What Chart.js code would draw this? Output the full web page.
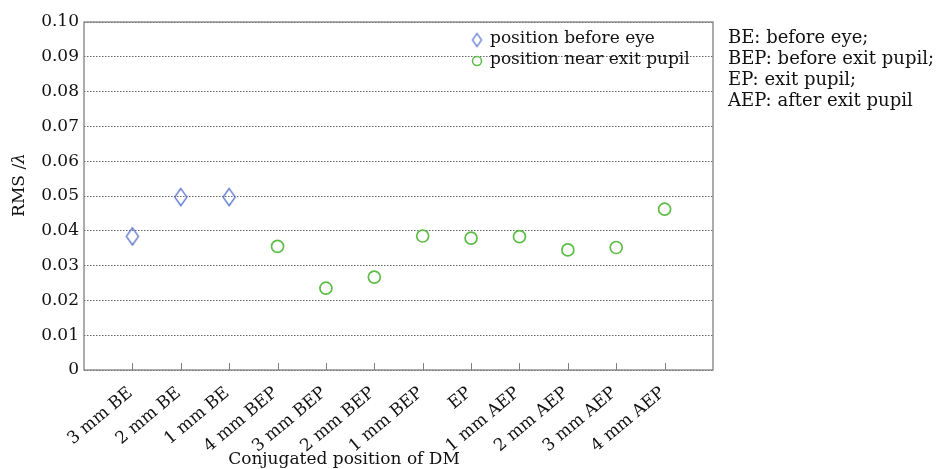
<!DOCTYPE html>
<html><head><meta charset="utf-8">
<script src="https://cdn.jsdelivr.net/npm/chart.js@4"></script>
<style>html,body{margin:0;padding:0;background:#fff;}#wrap{width:938px;height:469px;}</style>
</head><body><div id="wrap"><canvas id="c" width="938" height="469"></canvas></div>
<script>
const categories = ['3 mm BE','2 mm BE','1 mm BE','4 mm BEP','3 mm BEP','2 mm BEP','1 mm BEP','EP','1 mm AEP','2 mm AEP','3 mm AEP','4 mm AEP'];
const beforeEyeCategories = ['3 mm BE','2 mm BE','1 mm BE'];
const beforeEyeRMS = [0.0384, 0.0497, 0.0497];
const exitPupilCategories = ['4 mm BEP','3 mm BEP','2 mm BEP','1 mm BEP','EP','1 mm AEP','2 mm AEP','3 mm AEP','4 mm AEP'];
const exitPupilRMS = [0.0355, 0.0235, 0.0267, 0.0385, 0.0379, 0.0383, 0.0345, 0.0352, 0.0462];
const yTicks = [0, 0.01, 0.02, 0.03, 0.04, 0.05, 0.06, 0.07, 0.08, 0.09, 0.10];
const yTickLabels = ['0','0.01','0.02','0.03','0.04','0.05','0.06','0.07','0.08','0.09','0.10'];
const seriesLabels = ['position before eye', 'position near exit pupil'];
const notes = ['BE: before eye;', 'BEP: before exit pupil;', 'EP: exit pupil;', 'AEP: after exit pupil'];
const xTitle = 'Conjugated position of DM';
const yTitle = 'RMS /λ';

const FONT = "'DejaVu Serif', serif";
const BLUE = '#4a66c6';
const GREEN = '#5cbd46';

function makeDiamond(w, h, color, lw) {
  const c = document.createElement('canvas');
  c.width = Math.ceil(w + 4); c.height = Math.ceil(h + 4);
  const g = c.getContext('2d');
  g.strokeStyle = color; g.lineWidth = lw;
  const cx = c.width / 2, cy = c.height / 2;
  g.beginPath();
  g.moveTo(cx, cy - h / 2); g.lineTo(cx + w / 2, cy);
  g.lineTo(cx, cy + h / 2); g.lineTo(cx - w / 2, cy);
  g.closePath(); g.stroke();
  return c;
}
const diamondPoint = makeDiamond(12, 17, BLUE, 1.3);
const diamondLegend = makeDiamond(9, 13, BLUE, 1.2);

const toPoints = (cats, vals) => cats.map((c, i) => ({ x: categories.indexOf(c) + 1, y: vals[i] }));

const decor = {
  id: 'decor',
  beforeDatasetsDraw(chart) {
    const { ctx, chartArea: a } = chart;
    const xs = chart.scales.x;
    ctx.save();
    ctx.strokeStyle = '#808080';
    ctx.lineWidth = 1.3;
    ctx.strokeRect(a.left, a.top, a.right - a.left, a.bottom - a.top);
    ctx.lineWidth = 1;
    xs.ticks.forEach(t => {
      const px = Math.round(xs.getPixelForValue(t.value)) + 0.5;
      ctx.beginPath(); ctx.moveTo(px, a.bottom); ctx.lineTo(px, a.bottom - 7); ctx.stroke();
    });
    ctx.restore();
  },
  afterDraw(chart) {
    const { ctx } = chart;
    ctx.save();
    // legend inside plot
    ctx.font = '17px ' + FONT;
    ctx.fillStyle = '#111';
    ctx.textBaseline = 'middle';
    chart.data.datasets.forEach((ds, i) => {
      const y = 40 + 21 * i;
      if (i === 0) {
        ctx.drawImage(diamondLegend, 477 - diamondLegend.width / 2, y - diamondLegend.height / 2);
      } else {
        ctx.strokeStyle = GREEN; ctx.lineWidth = 1.5;
        ctx.beginPath(); ctx.arc(477, y, 4.5, 0, Math.PI * 2); ctx.stroke();
      }
      ctx.fillText(ds.label, 490, y - 1);
    });
    // notes at right
    ctx.font = '18px ' + FONT;
    ctx.textBaseline = 'alphabetic';
    notes.forEach((n, i) => ctx.fillText(n, 728, 43 + 21 * i));
    // x title
    ctx.font = '17px ' + FONT;
    ctx.textAlign = 'center';
    ctx.fillText(chart.options.scales.x.title.text, 344, 464);
    // y title with italic lambda
    const t = chart.options.scales.y.title.text;
    const main = t.slice(0, -1), sym = t.slice(-1);
    ctx.font = '17px ' + FONT; const w1 = ctx.measureText(main).width;
    ctx.font = 'italic 17px ' + FONT; const w2 = ctx.measureText(sym).width;
    ctx.translate(24, 185);
    ctx.rotate(-Math.PI / 2);
    ctx.textAlign = 'left';
    ctx.font = '17px ' + FONT;
    ctx.fillText(main, -(w1 + w2) / 2, 0);
    ctx.font = 'italic 17px ' + FONT;
    ctx.fillText(sym, -(w1 + w2) / 2 + w1, 0);
    ctx.restore();
  }
};

new Chart(document.getElementById('c'), {
  type: 'scatter',
  data: {
    datasets: [
      { label: seriesLabels[0], data: toPoints(beforeEyeCategories, beforeEyeRMS),
        pointStyle: diamondPoint, borderColor: BLUE, backgroundColor: 'transparent' },
      { label: seriesLabels[1], data: toPoints(exitPupilCategories, exitPupilRMS),
        pointStyle: 'circle', pointRadius: 6, borderWidth: 1.7, borderColor: GREEN, backgroundColor: 'transparent' }
    ]
  },
  options: {
    responsive: false,
    animation: false,
    events: [],
    layout: { padding: { top: 22, right: 225, left: 0, bottom: 0 } },
    plugins: { legend: { display: false }, tooltip: { enabled: false } },
    scales: {
      x: {
        type: 'linear', min: 0, max: categories.length + 1,
        afterBuildTicks: s => { s.ticks = categories.map((c, i) => ({ value: i + 1 })); },
        afterFit: s => { s.height = 99; },
        grid: { display: false },
        border: { display: false },
        title: { display: false, text: xTitle },
        ticks: {
          autoSkip: false, minRotation: 40, maxRotation: 40, padding: 5, labelOffset: -2,
          color: '#111', font: { family: FONT, size: 17 },
          callback: v => categories[v - 1]
        }
      },
      y: {
        min: 0, max: 0.1,
        afterBuildTicks: s => { s.ticks = yTicks.map(v => ({ value: v })); },
        afterFit: s => { s.width = 84; },
        grid: { color: '#666', lineWidth: 1, drawTicks: false },
        border: { display: false, dash: [1.5, 1.5] },
        title: { display: false, text: yTitle },
        ticks: {
          padding: 5, color: '#111', font: { family: FONT, size: 17 },
          callback: (v, i) => yTickLabels[i]
        }
      }
    }
  },
  plugins: [decor]
});
</script></body></html>
